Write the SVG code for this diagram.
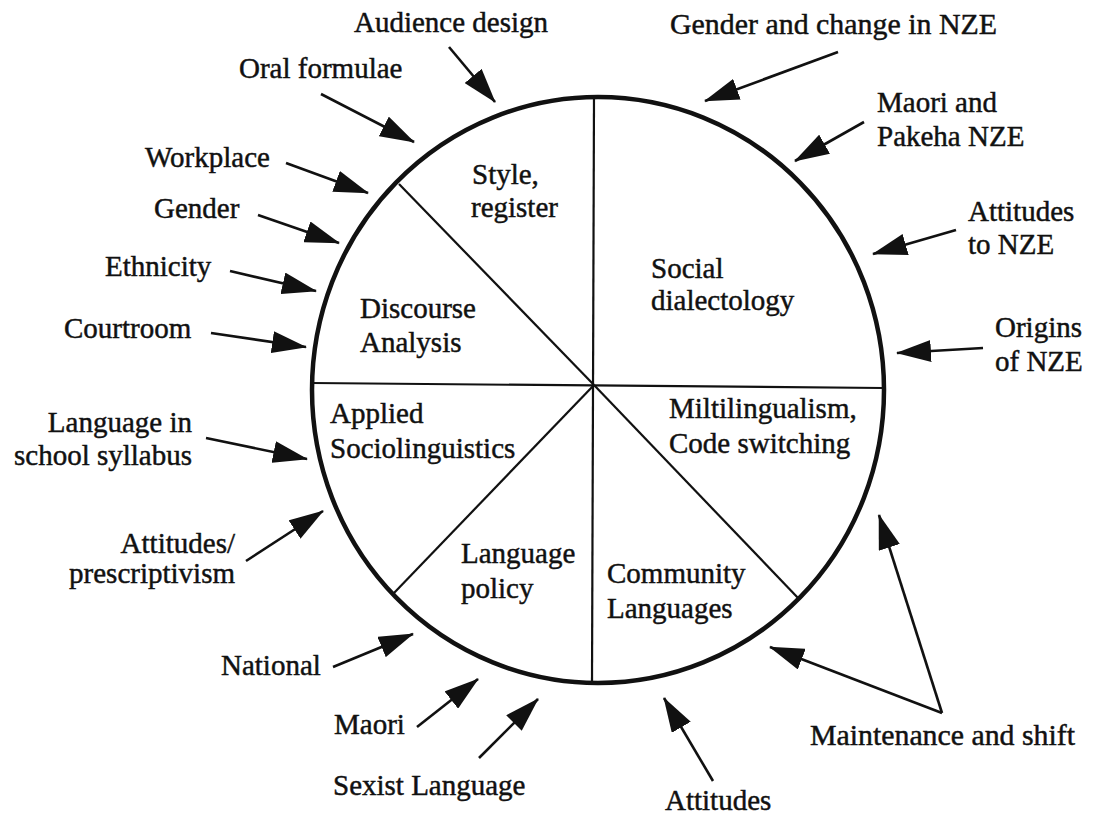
<svg xmlns="http://www.w3.org/2000/svg" width="1093" height="814" viewBox="0 0 1093 814">
  <style>
    text { font-family: "Liberation Serif", "Times New Roman", serif; font-size: 29px; fill: #111; stroke: #111; stroke-width: 0.45; }
    .rim { fill: none; stroke: #111; stroke-width: 4.5; }
    .spoke { stroke: #111; stroke-width: 2.2; fill: none; }
    .arrow { stroke: #111; stroke-width: 2.6; fill: none; marker-end: url(#head); }
  </style>
  <defs>
    <marker id="head" markerUnits="userSpaceOnUse" markerWidth="35" markerHeight="22" viewBox="0 0 35 22" refX="34" refY="11" orient="auto">
      <path d="M0,0 L35,11 L0,22 z" fill="#111"/>
    </marker>
  </defs>
  <rect width="1093" height="814" fill="#fff"/>

  <!-- wheel: outer rim and sector dividers -->
  <g id="wheel">
    <ellipse class="rim" cx="598" cy="390" rx="286" ry="293"/>
    <line class="spoke" x1="312" y1="383" x2="883" y2="388"/>
    <line class="spoke" x1="594" y1="98" x2="592" y2="683"/>
    <line class="spoke" x1="399" y1="184" x2="594" y2="385"/>
    <line class="spoke" x1="394" y1="593" x2="594" y2="385"/>
    <line class="spoke" x1="799" y1="599" x2="594" y2="385"/>
  </g>

  <!-- sectors -->
  <g id="style-register"><text x="472" y="184">Style,</text><text x="471" y="217">register</text></g>
  <g id="social-dialectology"><text x="651" y="278">Social</text><text x="651" y="310">dialectology</text></g>
  <g id="discourse-analysis"><text x="360" y="318">Discourse</text><text x="360" y="352">Analysis</text></g>
  <g id="applied-sociolinguistics"><text x="330" y="423">Applied</text><text x="330" y="458">Sociolinguistics</text></g>
  <g id="multilingualism"><text x="669" y="418">Miltilingualism,</text><text x="669" y="453">Code switching</text></g>
  <g id="language-policy"><text x="461" y="563">Language</text><text x="461" y="598">policy</text></g>
  <g id="community-languages"><text x="607" y="583">Community</text><text x="607" y="618">Languages</text></g>

  <!-- outer topics -->
  <g id="audience-design"><text x="354" y="32">Audience design</text></g>
  <g id="oral-formulae"><text x="239" y="78">Oral formulae</text></g>
  <g id="workplace"><text x="145" y="167">Workplace</text></g>
  <g id="gender"><text x="154" y="218">Gender</text></g>
  <g id="ethnicity"><text x="105" y="276">Ethnicity</text></g>
  <g id="courtroom"><text x="64" y="338">Courtroom</text></g>
  <g id="school-syllabus"><text x="192" y="432" text-anchor="end">Language in</text><text x="192" y="465" text-anchor="end">school syllabus</text></g>
  <g id="prescriptivism"><text x="235" y="553" text-anchor="end">Attitudes/</text><text x="235" y="583" text-anchor="end">prescriptivism</text></g>
  <g id="national"><text x="221" y="675">National</text></g>
  <g id="maori"><text x="334" y="734">Maori</text></g>
  <g id="sexist-language"><text x="333" y="795">Sexist Language</text></g>
  <g id="attitudes"><text x="665" y="810">Attitudes</text></g>
  <g id="maintenance-shift"><text x="810" y="745" textLength="265" lengthAdjust="spacingAndGlyphs">Maintenance and shift</text></g>
  <g id="gender-change-nze"><text x="670" y="34" textLength="327" lengthAdjust="spacingAndGlyphs">Gender and change in NZE</text></g>
  <g id="maori-pakeha-nze"><text x="877" y="112">Maori and</text><text x="877" y="146">Pakeha NZE</text></g>
  <g id="attitudes-nze"><text x="968" y="221">Attitudes</text><text x="968" y="254">to NZE</text></g>
  <g id="origins-nze"><text x="995" y="337">Origins</text><text x="995" y="371">of NZE</text></g>

  <!-- connectors -->
  <g id="connectors">
    <line class="arrow" x1="449" y1="47" x2="495" y2="102"/>
    <line class="arrow" x1="321" y1="94" x2="414" y2="142"/>
    <line class="arrow" x1="286" y1="163" x2="368" y2="193"/>
    <line class="arrow" x1="258" y1="215" x2="339" y2="243"/>
    <line class="arrow" x1="230" y1="271" x2="316" y2="291"/>
    <line class="arrow" x1="211" y1="333" x2="306" y2="347"/>
    <line class="arrow" x1="206" y1="438" x2="307" y2="459"/>
    <line class="arrow" x1="246" y1="561" x2="323" y2="511"/>
    <line class="arrow" x1="333" y1="667" x2="413" y2="634"/>
    <line class="arrow" x1="417" y1="727" x2="478" y2="679"/>
    <line class="arrow" x1="479" y1="758" x2="538" y2="699"/>
    <line class="arrow" x1="713" y1="781" x2="664" y2="698"/>
    <line class="arrow" x1="942" y1="713" x2="879" y2="515"/>
    <line class="arrow" x1="942" y1="713" x2="770" y2="647"/>
    <line class="arrow" x1="838" y1="52" x2="705" y2="101"/>
    <line class="arrow" x1="864" y1="122" x2="795" y2="161"/>
    <line class="arrow" x1="956" y1="230" x2="873" y2="254"/>
    <line class="arrow" x1="983" y1="348" x2="897" y2="353"/>
  </g>
</svg>
